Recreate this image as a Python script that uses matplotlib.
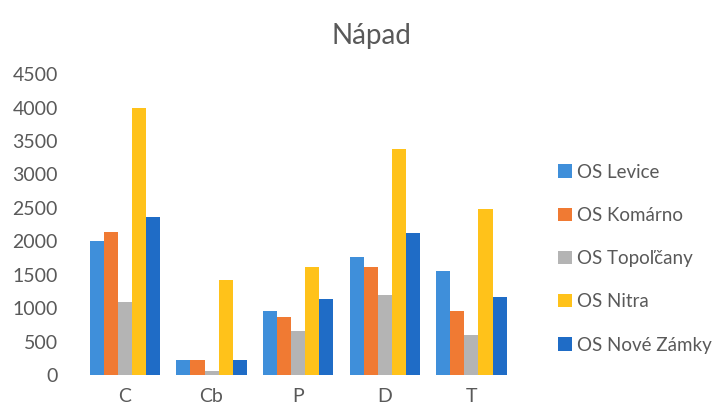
import matplotlib
matplotlib.use("Agg")
import matplotlib.pyplot as plt
import numpy as np

categories = ["C", "Cb", "P", "D", "T"]
series_names = ["OS Levice", "OS Komárno", "OS Topoľčany", "OS Nitra", "OS Nové Zámky"]
levice = [2000, 225, 960, 1760, 1550]
komarno = [2140, 225, 870, 1620, 950]
topolcany = [1090, 60, 660, 1200, 600]
nitra = [4000, 1425, 1620, 3380, 2480]
nove_zamky = [2370, 220, 1140, 2130, 1170]
yticks = [0, 500, 1000, 1500, 2000, 2500, 3000, 3500, 4000, 4500]

series = [levice, komarno, topolcany, nitra, nove_zamky]
colors = ["#3F8FDA", "#F07A33", "#B4B4B4", "#FFC21A", "#1F6CC6"]

plt.rcParams['font.family'] = ['Lato', 'DejaVu Sans']
fig = plt.figure(figsize=(7.22, 4.19), dpi=100)
ax = fig.add_axes([0.113, 0.105, 0.60, 0.718])

x = np.arange(len(categories))
w = 0.162
for i, (vals, name, c) in enumerate(zip(series, series_names, colors)):
    ax.bar(x + (i - 2) * w, vals, width=w, color=c, label=name)

ax.set_xlim(-0.5, len(categories) - 0.5)
ax.set_ylim(0, 4500)
ax.set_yticks(yticks)
ax.set_yticklabels([str(v) for v in yticks])
ax.set_xticks(x)
ax.set_xticklabels(categories)
for s in ax.spines.values():
    s.set_visible(False)
ax.tick_params(axis='both', length=0, labelsize=14, labelcolor="#595959")
ax.tick_params(axis='y', pad=17)
ax.tick_params(axis='x', pad=9)

fig.text(0.515, 0.915, "Nápad", ha='center', va='center', fontsize=20, color="#595959")

leg = fig.legend(loc='upper left', bbox_to_anchor=(0.75, 0.65), frameon=False,
                 fontsize=13.5, labelcolor="#595959", handlelength=0.7, handleheight=0.7,
                 handletextpad=0.3, labelspacing=1.4)

fig.savefig("out.png", dpi=100)
